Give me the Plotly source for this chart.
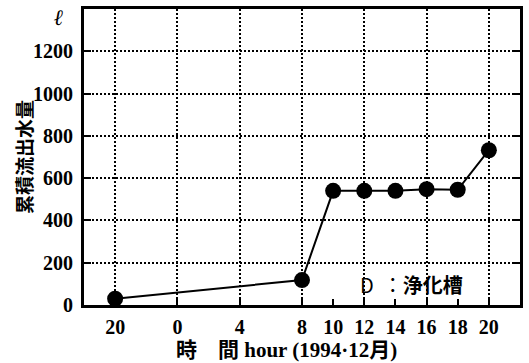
import plotly.graph_objects as go

# Cumulative outflow from a septic tank (D), Dec 1994
hours = [-4, 8, 10, 12, 14, 16, 18, 20]
volume = [30, 118, 540, 540, 540, 548, 545, 732]

x_tickvals = [-4, 0, 4, 8, 10, 12, 14, 16, 18, 20]
x_ticktext = ["20", "0", "4", "8", "10", "12", "14", "16", "18", "20"]
x_gridvals = [-4, 0, 4, 8, 12, 16, 20]
y_tickvals = [0, 200, 400, 600, 800, 1000, 1200]
y_ticktext = ["0", "200", "400", "600", "800", "1000", "1200"]

num_font = dict(family="Liberation Serif", size=20, color="black", weight="bold")
title_font = dict(family="Liberation Serif, Noto Sans CJK JP", size=21, color="black", weight="bold")

fig = go.Figure()
# carrier for the dotted vertical grid axis (not visible)
fig.add_trace(go.Scatter(
    x=hours, y=volume, xaxis="x2", mode="markers",
    marker=dict(opacity=0), hoverinfo="skip", showlegend=False,
))
fig.add_trace(go.Scatter(
    x=hours, y=volume, mode="lines+markers",
    line=dict(color="black", width=2),
    marker=dict(color="black", size=16, symbol="circle"),
    showlegend=False, cliponaxis=False,
))

fig.update_layout(
    width=529, height=363,
    margin=dict(l=84, r=6, t=7, b=58),
    paper_bgcolor="white", plot_bgcolor="white",
    xaxis=dict(
        range=[-6, 22], tickmode="array", tickvals=x_tickvals, ticktext=x_ticktext,
        showgrid=False, zeroline=False,
        showline=True, linecolor="black", linewidth=3, mirror=True,
        ticks="inside", ticklen=6, tickwidth=2, tickcolor="black",
        tickfont=num_font, ticklabelstandoff=2,
    ),
    xaxis2=dict(
        range=[-6, 22], overlaying="x", anchor="y", side="bottom",
        tickmode="array", tickvals=x_gridvals, showticklabels=False, ticks="",
        showgrid=True, gridcolor="black", gridwidth=2, griddash="2px,2px",
        zeroline=False, showline=False,
    ),
    yaxis=dict(
        range=[0, 1400], tickmode="array", tickvals=y_tickvals, ticktext=y_ticktext,
        showgrid=True, gridcolor="black", gridwidth=2, griddash="2px,2px",
        zeroline=False,
        showline=True, linecolor="black", linewidth=3, mirror="ticks",
        ticks="inside", ticklen=7, tickwidth=2, tickcolor="black",
        tickfont=num_font, ticklabelstandoff=4,
    ),
)

# unit mark above the y tick labels
fig.add_annotation(
    xref="paper", yref="y", x=-0.059, y=1360, xanchor="center", yanchor="middle",
    text="ℓ", showarrow=False,
    font=dict(family="DejaVu Serif", size=22, color="black", style="italic", weight="bold"),
)
# y axis title (vertical)
fig.add_annotation(
    xref="paper", yref="paper", x=-0.14, y=0.5, xanchor="center", yanchor="middle",
    text="累積流出水量", textangle=-90, showarrow=False,
    font=dict(family="Noto Sans CJK JP", size=19, color="black", weight="bold"),
)
# x axis title
fig.add_annotation(
    xref="paper", yref="paper", x=0.465, y=-0.151, xanchor="center", yanchor="middle",
    text="時　間 hour (1994·12月)", showarrow=False, font=title_font,
)
# series label
fig.add_annotation(
    x=15, y=95, xref="x", yref="y", xanchor="center", yanchor="middle",
    text="D  ：<b>浄化槽</b>", showarrow=False,
    font=dict(family="Noto Sans CJK JP", size=20, color="black"),
)

fig.write_html("out.html")
